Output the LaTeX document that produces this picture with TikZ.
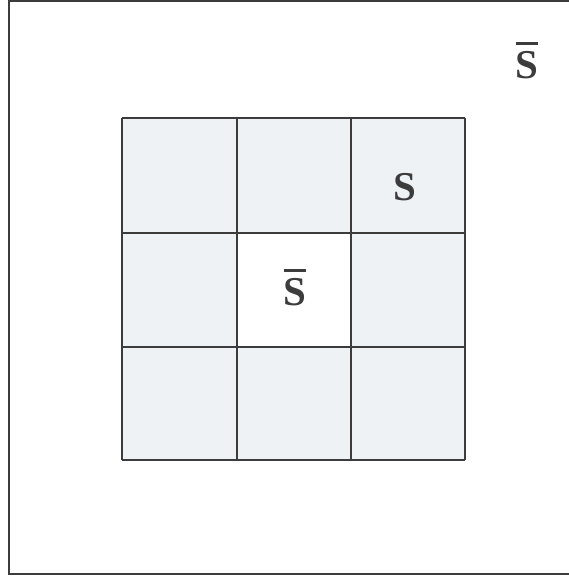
\documentclass[tikz,border=0pt]{standalone}
\usepackage{fontspec}
\setmainfont{Liberation Serif}
\usepackage{tikz}
\usetikzlibrary{positioning}
\definecolor{cellgray}{RGB}{239,242,245}
\definecolor{linegray}{RGB}{60,60,60}
\newcommand{\barS}{{\setbox0\hbox{\bfseries S}\vbox{\hrule height 2.6pt width \wd0 \kern6pt \box0}}}

\begin{document}
\begin{tikzpicture}[x=1pt,y=-1pt,font=\fontsize{41}{41}\selectfont\bfseries]
\useasboundingbox (0,0) rectangle (569,581);
\draw[linegray,line width=1.6] (9,1) rectangle (575,574);
\fill[cellgray] (122,118) rectangle (465,460);
\fill[white] (237,233) rectangle (351,347);
\foreach \x in {122,237,351,465}
  \draw[linegray,line width=1.4] (\x,118) -- (\x,460);
\foreach \y in {118,233,347,460}
  \draw[linegray,line width=1.4] (122,\y) -- (465,\y);
\node[text=linegray,anchor=base] (sbarout) at (527,78) {\barS};
\node[text=linegray,anchor=base] (scell) at (405,200) {S};
\node[text=linegray,anchor=base] (sbarin) at (295,305) {\barS};
\end{tikzpicture}
\end{document}
